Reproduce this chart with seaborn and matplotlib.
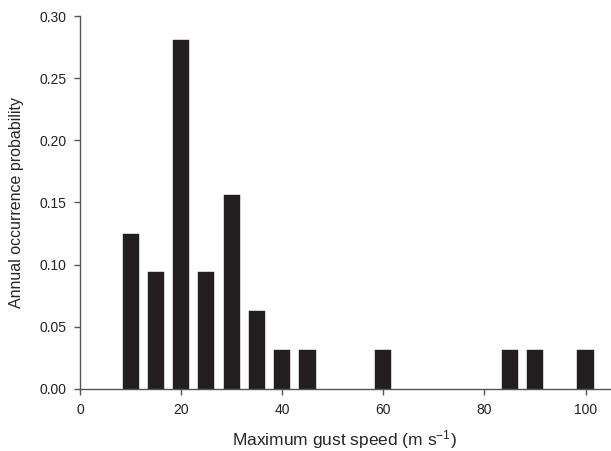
import pandas as pd
import numpy as np
import matplotlib
matplotlib.use("Agg")
import matplotlib.pyplot as plt
import seaborn as sns

# gust speed classes (m/s) and annual occurrence probability
speed = [10, 15, 20, 25, 30, 35, 40, 45, 60, 85, 90, 100]
prob = [0.125, 0.094, 0.281, 0.094, 0.156, 0.0625, 0.031, 0.031, 0.031, 0.031, 0.031, 0.031]

df = pd.DataFrame({"speed": speed, "prob": prob})

sns.set_style("ticks")
plt.rcParams["font.family"] = ["Liberation Sans", "DejaVu Sans"]
plt.rcParams["mathtext.fontset"] = "custom"
plt.rcParams["mathtext.rm"] = "Liberation Sans"
plt.rcParams["mathtext.default"] = "regular"

fig = plt.figure(figsize=(6.11, 4.51), dpi=100)
ax = fig.add_axes([0.131, 0.1375, 0.867, 0.827])

sns.barplot(data=df, x="speed", y="prob", native_scale=True, width=0.64,
            color="#231f20", saturation=1, edgecolor="#231f20", linewidth=0.3, ax=ax)

ax.set_xlim(0, 104.8)
ax.set_ylim(0, 0.30)
ax.set_xticks([0, 20, 40, 60, 80, 100])
ax.set_yticks(np.arange(0, 0.31, 0.05))
ax.set_yticklabels([f"{v:.2f}" for v in np.arange(0, 0.31, 0.05)])

sns.despine(ax=ax)
for s in ["left", "bottom"]:
    ax.spines[s].set_color("#555555")
    ax.spines[s].set_linewidth(1.0)
ax.tick_params(direction="out", length=4, width=1.0, color="#555555",
               labelsize=10, labelcolor="#222222", pad=6)

ax.set_xlabel("Maximum gust speed (m s$^{-1}$)", fontsize=12.5, labelpad=8)
ax.set_ylabel("Annual occurrence probability", fontsize=11.5, labelpad=11)

fig.savefig("out.png", dpi=100)
